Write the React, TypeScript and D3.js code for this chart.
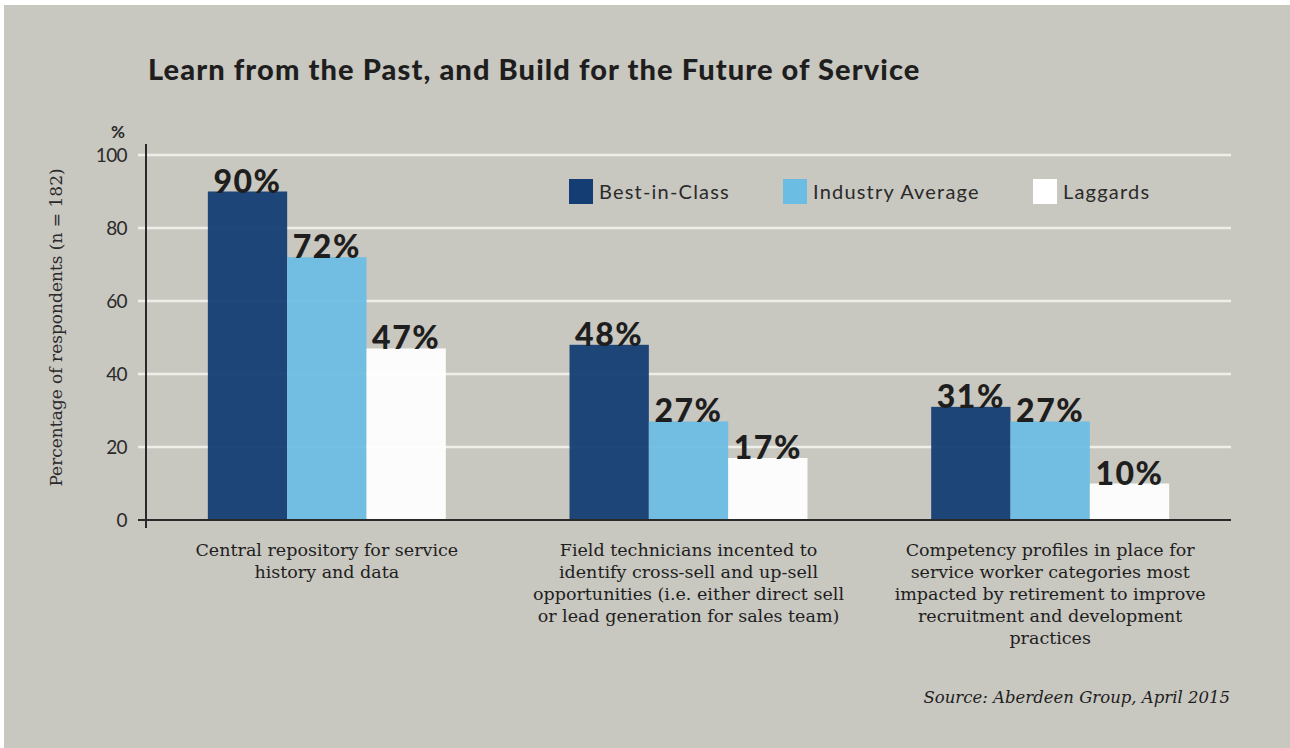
import React from "react";
import * as d3 from "d3";

const categories = [
  "Central repository for service history and data",
  "Field technicians incented to identify cross-sell and up-sell opportunities",
  "Competency profiles in place for service worker categories",
];
const categoryLines = [
  ["Central repository for service", "history and data"],
  [
    "Field technicians incented to",
    "identify cross-sell and up-sell",
    "opportunities (i.e. either direct sell",
    "or lead generation for sales team)",
  ],
  [
    "Competency profiles in place for",
    "service worker categories most",
    "impacted by retirement to improve",
    "recruitment and development",
    "practices",
  ],
];
const seriesNames = ["Best-in-Class", "Industry Average", "Laggards"];
const bestInClass = [90, 48, 31];
const industryAverage = [72, 27, 27];
const laggards = [47, 17, 10];
const yTicks = [0, 20, 40, 60, 80, 100];

const colors = ["#133d73", "#6bbde3", "#ffffff"];
const W = 1290;
const H = 748;
const plot = { left: 146, right: 1231, top: 155, bottom: 520 };

const sansFont = "Lato, 'Noto Sans', sans-serif";
const serifFont = "'DejaVu Serif', 'Liberation Serif', serif";

export default function App() {
  const values = [bestInClass, industryAverage, laggards];

  const x0 = d3
    .scaleBand<string>()
    .domain(categories)
    .range([plot.left, plot.right])
    .paddingInner(0.342)
    .paddingOuter(0.171);
  const x1 = d3.scaleBand<string>().domain(seriesNames).range([0, x0.bandwidth()]);
  const y = d3.scaleLinear().domain([0, 100]).range([plot.bottom, plot.top]);

  const legendX = [569, 783, 1033];

  return (
    <div style={{ position: "fixed", left: 0, top: 0 }}>
      <svg width={W} height={H} style={{ display: "block" }}>
        <rect x={0} y={0} width={W} height={H} fill="#ffffff" />
        <rect x={4} y={5} width={W - 4} height={H - 5} fill="#c8c7c0" />

        {/* title */}
        <text
          x={148}
          y={80}
          fontFamily={sansFont}
          fontWeight={900}
          fontSize={29}
          letterSpacing={1.1}
          fill="#1e1e1e"
        >
          Learn from the Past, and Build for the Future of Service
        </text>

        {/* grid */}
        {yTicks.slice(1).map((t) => (
          <line key={t} x1={138} x2={plot.right} y1={y(t)} y2={y(t)} stroke="#efeee9" strokeWidth={2.5} />
        ))}

        {/* bars */}
        {categories.map((c, ci) => (
          <g key={c} transform={`translate(${x0(c)},0)`}>
            {seriesNames.map((s, si) => (
              <rect
                key={s}
                x={x1(s)}
                y={y(values[si][ci])}
                width={x1.bandwidth()}
                height={y(0) - y(values[si][ci])}
                fill={colors[si]}
                fillOpacity={0.94}
              />
            ))}
            {seriesNames.map((s, si) => (
              <text
                key={s + "l"}
                x={(x1(s) || 0) + x1.bandwidth() / 2}
                y={y(values[si][ci]) + 1}
                textAnchor="middle"
                fontFamily={sansFont}
                fontWeight={900}
                fontSize={32}
                letterSpacing={1.5}
                fill="#1e1e1e"
              >
                {values[si][ci]}%
              </text>
            ))}
          </g>
        ))}

        {/* axes */}
        <line x1={138} x2={plot.right} y1={y(0)} y2={y(0)} stroke="#2a2a2a" strokeWidth={2} />
        <line x1={plot.left} x2={plot.left} y1={144} y2={528} stroke="#2a2a2a" strokeWidth={2} />
        {yTicks.map((t) => (
          <text
            key={t}
            x={127}
            y={y(t)}
            dy="0.35em"
            textAnchor="end"
            fontFamily={sansFont}
            fontSize={19}
            letterSpacing={-0.6}
            fill="#2a2a2a"
          >
            {t}
          </text>
        ))}
        <text x={118} y={138} textAnchor="middle" fontFamily={sansFont} fontWeight={700} fontSize={17} fill="#2a2a2a">
          %
        </text>
        <text
          transform={`translate(62,${(168 + 487) / 2}) rotate(-90)`}
          textAnchor="middle"
          fontFamily={serifFont}
          fontSize={17}
          fill="#2a2a2a"
        >
          Percentage of respondents (n = 182)
        </text>

        {/* category labels */}
        {categories.map((c, ci) => (
          <text
            key={c + "c"}
            textAnchor="middle"
            fontFamily={serifFont}
            fontSize={17.5}
            fill="#1e1e1e"
          >
            {categoryLines[ci].map((ln, li) => (
              <tspan key={li} x={(x0(c) || 0) + x0.bandwidth() / 2} y={556 + li * 22}>
                {ln}
              </tspan>
            ))}
          </text>
        ))}

        {/* legend */}
        {seriesNames.map((s, si) => (
          <g key={s + "g"} transform={`translate(${legendX[si]},179)`}>
            <rect width={24} height={25} fill={colors[si]} />
            <text
              x={30}
              y={12.5}
              dy="0.35em"
              fontFamily={sansFont}
              fontSize={20}
              letterSpacing={1.2}
              fill="#2a2a2a"
            >
              {s}
            </text>
          </g>
        ))}

        {/* source */}
        <text
          x={1230}
          y={703}
          textAnchor="end"
          fontFamily={serifFont}
          fontStyle="italic"
          fontSize={16.5}
          fill="#1e1e1e"
        >
          Source: Aberdeen Group, April 2015
        </text>
      </svg>
    </div>
  );
}
